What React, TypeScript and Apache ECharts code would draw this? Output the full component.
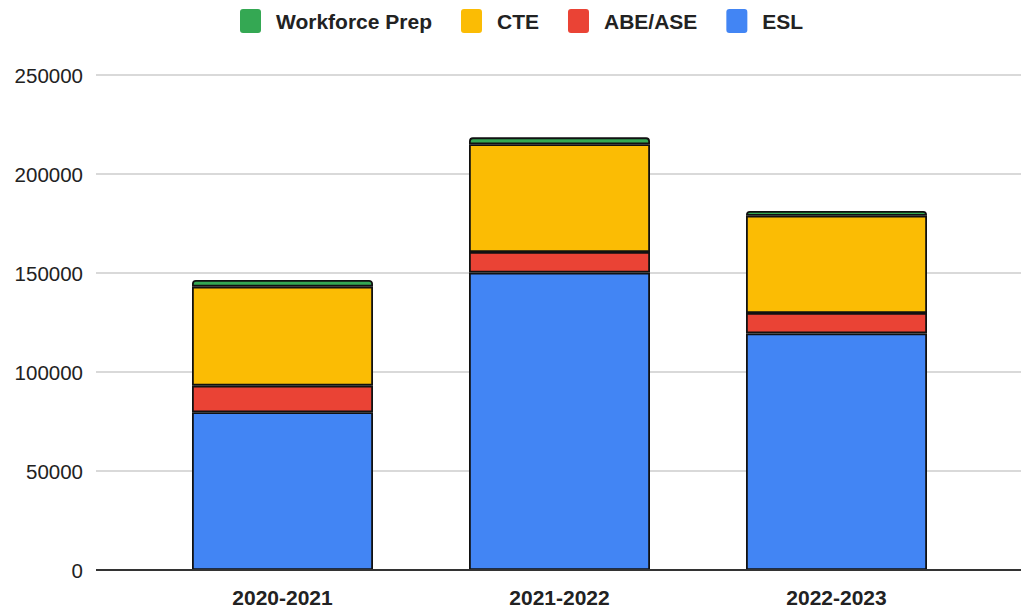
import React, { useEffect, useRef } from "react";
import * as echarts from "echarts";

const categories = ["2020-2021", "2021-2022", "2022-2023"];
const esl = [79700, 150200, 119500];
const abeAse = [13400, 10400, 10300];
const cte = [50000, 54400, 49100];
const workforcePrep = [3400, 3500, 2400];
const yTicks = [0, 50000, 100000, 150000, 200000, 250000];

const FONT = "Liberation Sans, Arial, sans-serif";
const ICON =
  "path://M3,0 H18 A3,3 0 0 1 21,3 V21 A3,3 0 0 1 18,24 H3 A3,3 0 0 1 0,21 V3 A3,3 0 0 1 3,0 Z";

export default function App() {
  const ref = useRef<HTMLDivElement>(null);
  useEffect(() => {
    if (!ref.current) return;
    const chart = echarts.init(ref.current, undefined, { renderer: "svg" });
    const yMax = yTicks[yTicks.length - 1];
    const border = { borderColor: "#111", borderWidth: 1.8 };
    chart.setOption({
      animation: false,
      backgroundColor: "#fff",
      legend: {
        top: 4,
        left: 235,
        data: ["Workforce Prep", "CTE", "ABE/ASE", "ESL"],
        itemWidth: 21,
        itemHeight: 24,
        itemGap: 29,
        icon: ICON,
        itemStyle: { borderWidth: 0 },
        textStyle: {
          fontFamily: FONT,
          fontSize: 21,
          fontWeight: "bold",
          color: "#222",
          padding: [0, 0, 0, 10],
        },
      },
      grid: [
        { left: 96, right: 0, top: 75, bottom: 38, containLabel: false },
        { left: 144, right: 46, top: 75, bottom: 38, containLabel: false },
      ],
      xAxis: [
        {
          gridIndex: 0,
          type: "value",
          min: 0,
          max: 1,
          axisLine: { show: false },
          axisTick: { show: false },
          axisLabel: { show: false },
          splitLine: { show: false },
        },
        {
          gridIndex: 1,
          type: "category",
          data: categories,
          axisLine: { show: false },
          axisTick: { show: false },
          axisLabel: {
            fontFamily: FONT,
            fontSize: 21,
            fontWeight: "bold",
            color: "#222",
            margin: 17,
          },
        },
      ],
      yAxis: [
        {
          gridIndex: 0,
          type: "value",
          min: 0,
          max: yMax,
          interval: 50000,
          axisLine: { show: false },
          axisTick: { show: false },
          axisLabel: {
            fontFamily: FONT,
            fontSize: 20.5,
            color: "#222",
            margin: 13,
            formatter: (v: number) => String(v),
          },
          splitLine: { lineStyle: { color: "#ccc", width: 1.5 } },
        },
        {
          gridIndex: 1,
          type: "value",
          min: 0,
          max: yMax,
          interval: 50000,
          show: false,
          splitLine: { show: false },
        },
      ],
      series: [
        {
          name: "ESL",
          type: "bar",
          stack: "total",
          xAxisIndex: 1,
          yAxisIndex: 1,
          data: esl,
          barWidth: 181,
          itemStyle: { color: "#4285f4", ...border },
        },
        {
          name: "ABE/ASE",
          type: "bar",
          stack: "total",
          xAxisIndex: 1,
          yAxisIndex: 1,
          data: abeAse,
          barWidth: 181,
          itemStyle: { color: "#ea4335", ...border },
        },
        {
          name: "CTE",
          type: "bar",
          stack: "total",
          xAxisIndex: 1,
          yAxisIndex: 1,
          data: cte,
          barWidth: 181,
          itemStyle: { color: "#fbbc04", ...border },
        },
        {
          name: "Workforce Prep",
          type: "bar",
          stack: "total",
          xAxisIndex: 1,
          yAxisIndex: 1,
          data: workforcePrep,
          barWidth: 181,
          itemStyle: { color: "#34a853", ...border, borderRadius: [3, 3, 0, 0] },
        },
        {
          name: "baseline",
          type: "line",
          xAxisIndex: 0,
          yAxisIndex: 0,
          data: [[0, 0], [1, 0]],
          symbol: "none",
          silent: true,
          lineStyle: { color: "#333", width: 2 },
          z: 5,
        },
      ],
    });
    return () => chart.dispose();
  }, []);
  return <div ref={ref} style={{ width: 1021, height: 608, position: "absolute", left: 0, top: 0 }} />;
}
